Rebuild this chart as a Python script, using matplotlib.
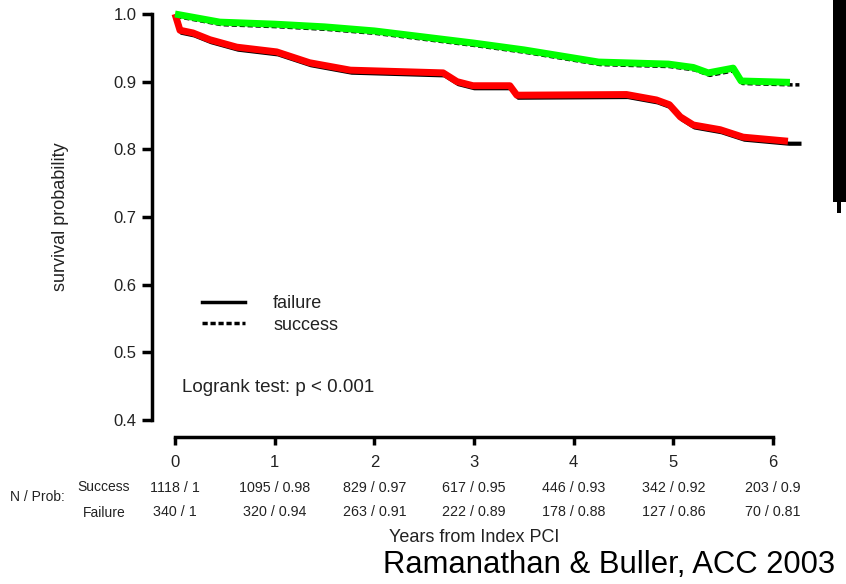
import numpy as np
import matplotlib
matplotlib.use("Agg")
import matplotlib.pyplot as plt
import matplotlib.transforms as mtransforms
from matplotlib.lines import Line2D
from matplotlib.patches import Rectangle

plt.rcParams['font.family'] = ['Liberation Sans', 'DejaVu Sans']

# Kaplan-Meier curves (years, survival probability)
succ_t = [0, 0.45, 1.0, 1.5, 2.0, 2.5, 3.0, 3.5, 4.0, 4.25, 4.95, 5.2, 5.35, 5.6, 5.68, 6.17]
succ_p = [1.0, 0.988, 0.985, 0.981, 0.975, 0.966, 0.957, 0.947, 0.935, 0.929, 0.926, 0.921, 0.913, 0.920, 0.901, 0.899]
fail_t = [0, 0.05, 0.18, 0.35, 0.62, 1.02, 1.35, 1.76, 2.69, 2.83, 2.99, 3.36, 3.43, 4.53, 4.83, 4.96,
          5.07, 5.20, 5.47, 5.70, 6.15]
fail_p = [1.0, 0.976, 0.972, 0.962, 0.951, 0.944, 0.928, 0.917, 0.913, 0.900, 0.894, 0.894, 0.880, 0.881,
          0.873, 0.866, 0.848, 0.836, 0.829, 0.818, 0.812]
t_end = 6.25

# numbers at risk / survival table
years = [0, 1, 2, 3, 4, 5, 6]
succ_tab = ["1118 / 1", "1095 / 0.98", "829 / 0.97", "617 / 0.95", "446 / 0.93", "342 / 0.92", "203 / 0.9"]
fail_tab = ["340 / 1", "320 / 0.94", "263 / 0.91", "222 / 0.89", "178 / 0.88", "127 / 0.86", "70 / 0.81"]

W, H = 846, 584
fig = plt.figure(figsize=(W / 100, H / 100), dpi=100)
x0, x6 = 175, 773
px_per_year = (x6 - x0) / 6
ax = fig.add_axes([x0 / W, (H - 420) / H, 6.3 * px_per_year / W, 406 / H])
ax.set_xlim(0, 6.3)
ax.set_ylim(0.4, 1.0)

# black KM traces sit just under the thick coloured traces
shift = mtransforms.offset_copy(ax.transData, fig=fig, x=1.5, y=-2.5, units='dots')
ax.plot(fail_t + [t_end], fail_p + [fail_p[-1]], color='black', lw=3.0, transform=shift,
        clip_on=False, zorder=2)
ax.plot(succ_t + [t_end], succ_p + [succ_p[-1]], color='black', lw=2.5, ls=(0, (1.5, 0.8)),
        transform=shift, clip_on=False, zorder=2)
ax.plot(fail_t, fail_p, color='#ff0000', lw=5, solid_capstyle='butt', clip_on=False, zorder=3)
ax.plot(succ_t, succ_p, color='#00ff00', lw=5, solid_capstyle='butt', clip_on=False, zorder=3)

# axes styling: detached spines
for s in ['top', 'right']:
    ax.spines[s].set_visible(False)
ax.spines['left'].set_position(('outward', 16.5))
ax.spines['bottom'].set_position(('outward', 12))
ax.spines['left'].set_bounds(0.4, 1.0)
ax.spines['bottom'].set_bounds(0, 6)
ax.spines['left'].set_linewidth(2.5)
ax.spines['bottom'].set_linewidth(2.5)
ax.set_yticks(np.arange(0.4, 1.01, 0.1))
ax.set_yticklabels([f"{v:.1f}" for v in np.arange(0.4, 1.01, 0.1)])
ax.set_xticks(years)
ax.tick_params(axis='y', length=7, width=2.5, pad=4, labelsize=12, labelcolor='#222222')
ax.tick_params(axis='x', length=6, width=2.5, pad=7, labelsize=12, labelcolor='#222222')
ax.set_ylabel("survival probability", fontsize=13, color='#222222', labelpad=32)

# legend drawn by hand
fig.add_artist(Line2D([202 / W, 245 / W], [1 - 302 / H] * 2, color='black', lw=2.5))
fig.add_artist(Line2D([202 / W, 245 / W], [1 - 323 / H] * 2, color='black', lw=2.5, ls=(0, (1.5, 0.8))))
fig.text(273 / W, 1 - 304 / H, "failure", fontsize=13, va='center', color='#222222')
fig.text(273 / W, 1 - 326 / H, "success", fontsize=13, va='center', color='#222222')
fig.text(182 / W, 1 - 387 / H, "Logrank test: p < 0.001", fontsize=13.5, va='center', color='#222222')

# table under the x axis
for yr, s, f in zip(years, succ_tab, fail_tab):
    xf = (x0 + yr * px_per_year) / W
    fig.text(xf, 1 - 488 / H, s, fontsize=10.3, ha='center', va='center', color='#222222')
    fig.text(xf, 1 - 512 / H, f, fontsize=10.3, ha='center', va='center', color='#222222')
fig.text(104 / W, 1 - 487 / H, "Success", fontsize=10, ha='center', va='center', color='#222222')
fig.text(104 / W, 1 - 513 / H, "Failure", fontsize=10, ha='center', va='center', color='#222222')
fig.text(10 / W, 1 - 497 / H, "N / Prob:", fontsize=10, ha='left', va='center', color='#222222')
fig.text(474 / W, 1 - 537 / H, "Years from Index PCI", fontsize=13, ha='center', va='center', color='#222222')
fig.text(835 / W, 1 - 565 / H, "Ramanathan & Buller, ACC 2003", fontsize=22.3, ha='right', va='center',
         color='black')

# dark bar at the right edge
fig.add_artist(Rectangle((833 / W, 1 - 202 / H), 13 / W, 202 / H, transform=fig.transFigure,
                         color='black', lw=0))
fig.add_artist(Rectangle((837 / W, 1 - 213 / H), 4 / W, 12 / H, transform=fig.transFigure,
                         color='black', lw=0))

fig.savefig("out.png", dpi=100)
